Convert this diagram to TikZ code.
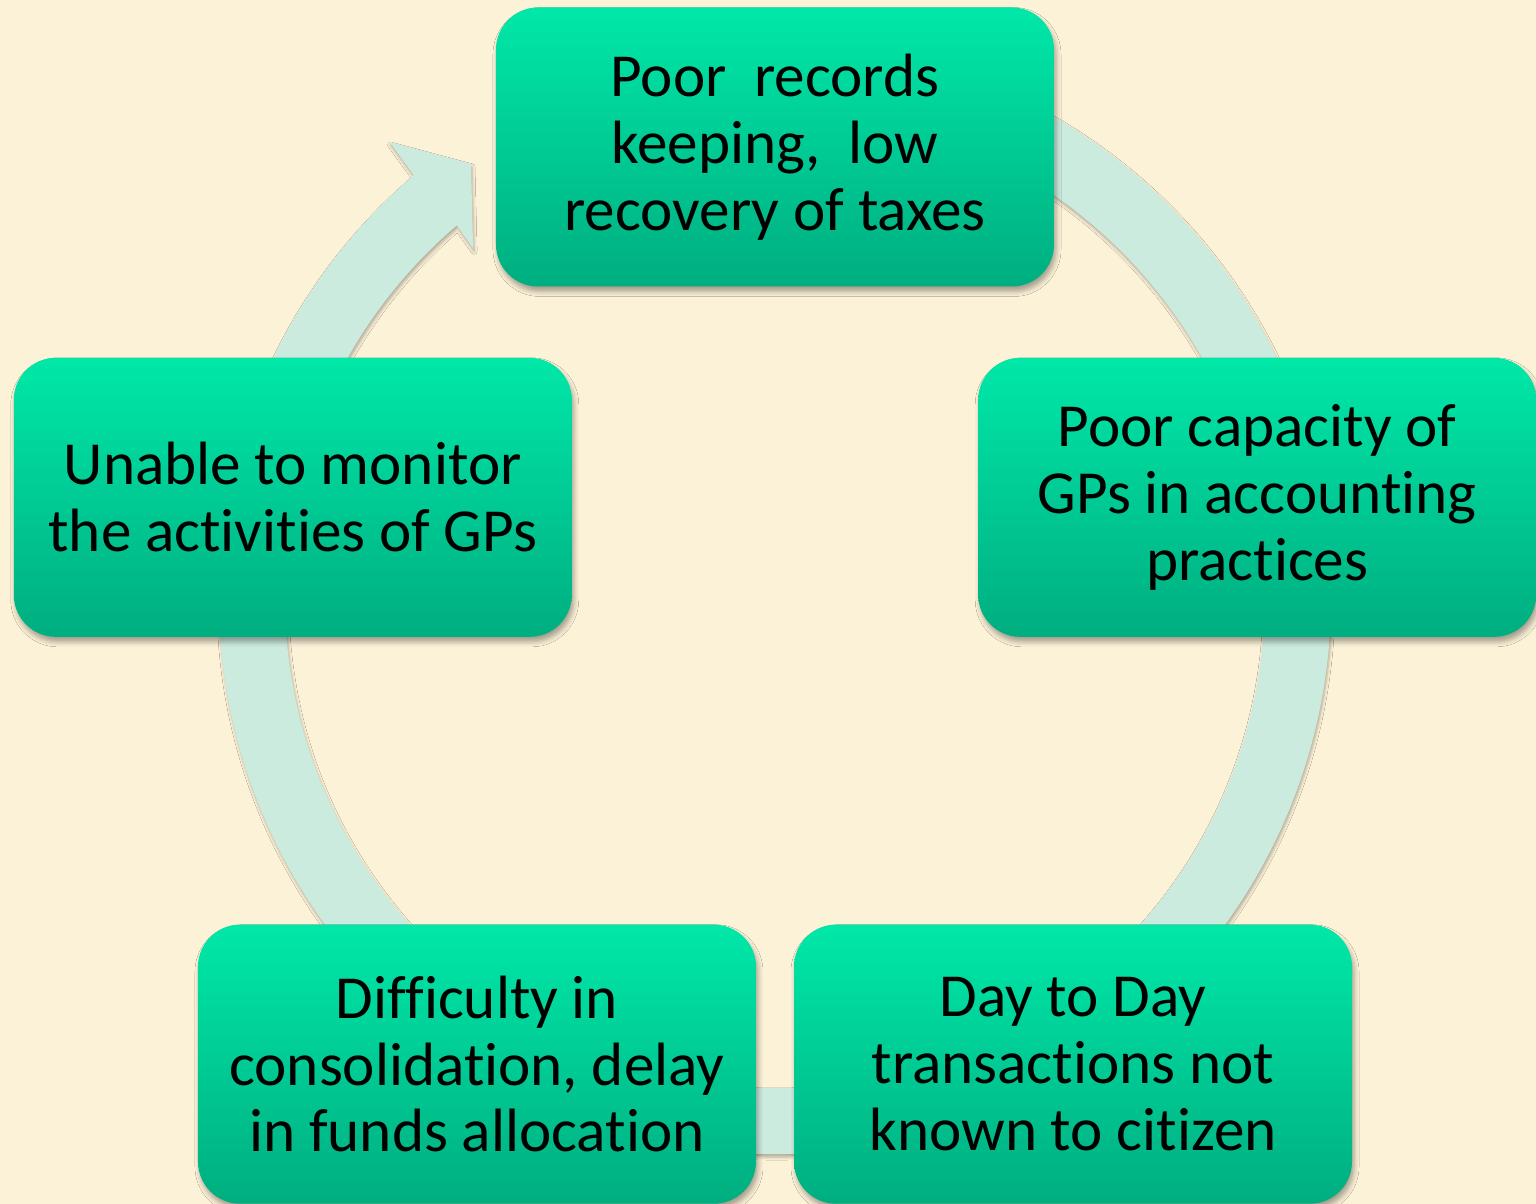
\documentclass[tikz,border=0pt]{standalone}
\usepackage{fontspec}
\setmainfont[Ligatures=NoCommon]{Carlito}
% keep t and i apart
\newXeTeXintercharclass\tletter
\newXeTeXintercharclass\iletter
\XeTeXcharclass`t=\tletter
\XeTeXcharclass`i=\iletter
\XeTeXinterchartoks\tletter\iletter={\kern0pt}
\XeTeXinterchartokenstate=1
\usetikzlibrary{shadows.blur}
\definecolor{paper}{RGB}{252,242,216}
\definecolor{ringgreen}{RGB}{203,235,222}
\definecolor{boxtop}{RGB}{0,232,168}
\definecolor{boxbottom}{RGB}{0,174,128}
\begin{document}
\begin{tikzpicture}[
    issue/.style={rectangle, rounded corners=0.42 cm, minimum width=5.58 cm, minimum height=2.79 cm,
        inner sep=0 pt, align=center, top color=boxtop, bottom color=boxbottom,
        font=\fontsize{17.4}{19}\selectfont,
        blur shadow={shadow xshift=0.02 cm, shadow yshift=-0.05 cm, shadow blur radius=0.05 cm, shadow opacity=35}},
    ringarrow/.style={fill=ringgreen,
        blur shadow={shadow xshift=0.01 cm, shadow yshift=-0.03 cm, shadow blur radius=0.03 cm, shadow opacity=30}}
    ]
    \useasboundingbox (-7.75,-5.50) rectangle (7.61,6.54);
    \fill[paper] (-7.75,-5.50) rectangle (7.61,6.54);
    \fill[ringarrow, shift={(0,0.56)}] (80:5.56 cm) arc (80:-229.5:5.56 cm) -- (-229.8:5.97 cm) -- (-235:5.30 cm)
        -- (-229.2:4.62 cm) -- (-229.5:4.90 cm) arc (-229.5:80:4.90 cm) -- cycle;
    \node[issue] (records) at (90:5.07 cm) {Poor\ \ records\\ keeping,\ \ low\\ recovery of taxes};
    \node[issue] (capacity) at (18:5.07 cm) {Poor capacity of\\ GPs in accounting\\ practices};
    \node[issue] (transactions) at (-54:5.07 cm) {Day to Day\\ transactions not\\ known to citizen};
    \node[issue] (funds) at (-126:5.07 cm) {Difficulty in\\ consolidation, delay\\ in funds allocation};
    \node[issue] (monitor) at (162:5.07 cm) {Unable to monitor\\ the activities of GPs};
\end{tikzpicture}
\end{document}
